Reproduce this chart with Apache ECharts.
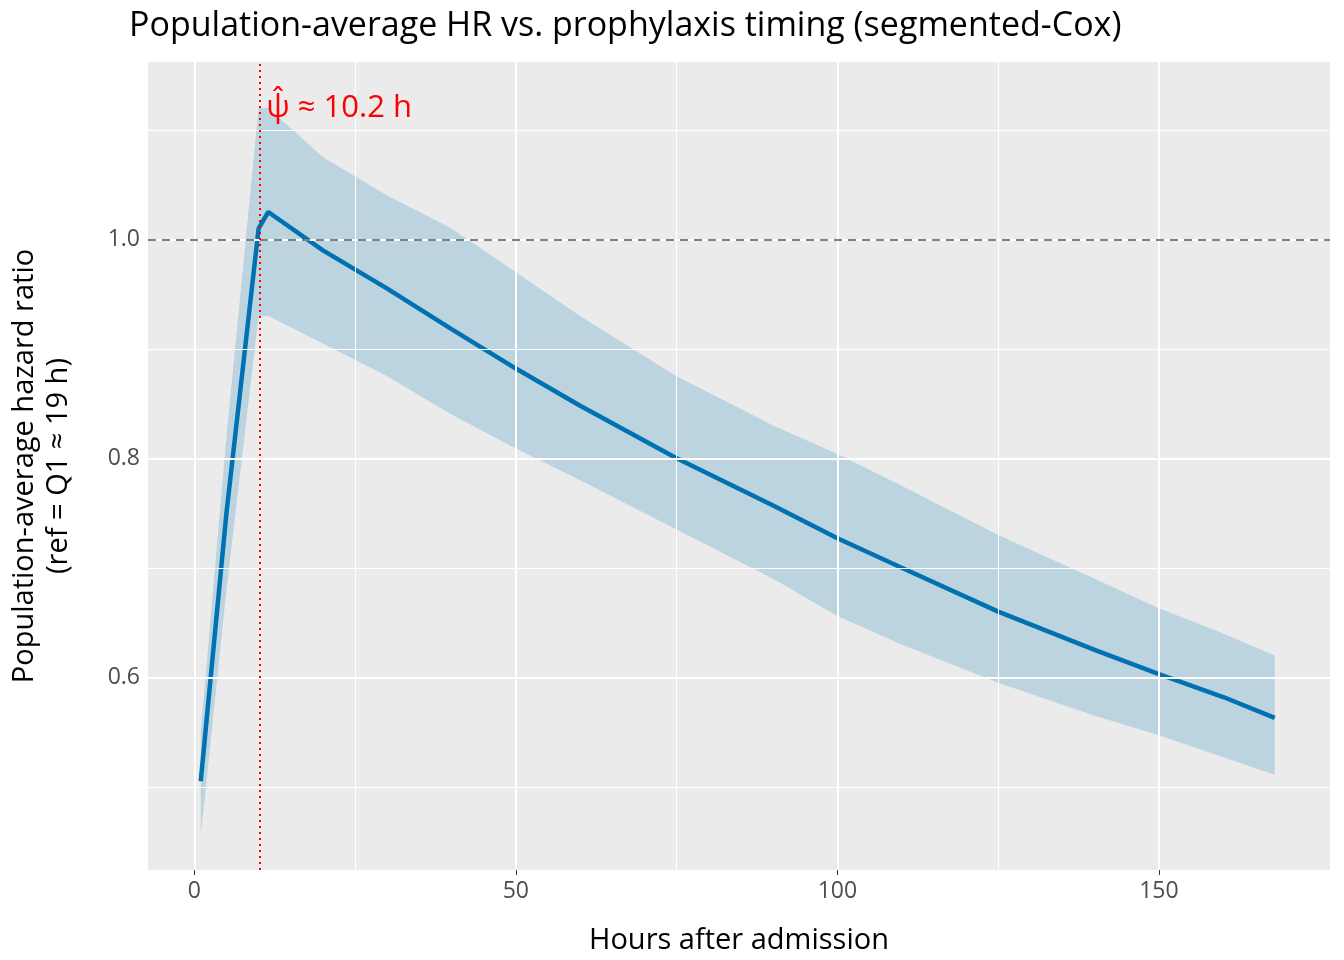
<!DOCTYPE html>
<html>
<head>
<meta charset="utf-8">
<script src="https://cdn.jsdelivr.net/npm/echarts@6/dist/echarts.min.js"></script>
<style>html,body{margin:0;background:#fff}#chart{width:1344px;height:960px}</style>
</head>
<body>
<div id="chart"></div>
<script>
// 数据
const hours = [1, 5, 10, 11.5, 20, 30, 40, 50, 60, 75, 90, 100, 110, 125, 140, 150, 160, 168];
const hrMid = [0.505, 0.75, 1.01, 1.025, 0.99, 0.955, 0.918, 0.882, 0.848, 0.800, 0.757, 0.727, 0.700, 0.660, 0.625, 0.603, 0.582, 0.563];
const hrUpper = [0.55, 0.82, 1.12, 1.12, 1.075, 1.04, 1.01, 0.97, 0.93, 0.875, 0.83, 0.804, 0.775, 0.73, 0.69, 0.663, 0.64, 0.62];
const hrLower = [0.455, 0.68, 0.93, 0.93, 0.905, 0.875, 0.84, 0.809, 0.78, 0.735, 0.69, 0.656, 0.63, 0.595, 0.565, 0.547, 0.527, 0.511];
const xTicks = [0, 50, 100, 150];
const xMinor = [25, 75, 125];
const yTicks = [0.6, 0.8, 1.0];
const yMinor = [0.5, 0.7, 0.9, 1.1];
const psiHat = 10.2;

const chart = echarts.init(document.getElementById('chart'));
const font = 'Open Sans';

const gridLines = [];
xTicks.forEach(v => gridLines.push({ xAxis: v, lineStyle: { width: 2 } }));
xMinor.forEach(v => gridLines.push({ xAxis: v, lineStyle: { width: 1 } }));
yTicks.forEach(v => gridLines.push({ yAxis: v, lineStyle: { width: 2 } }));
yMinor.forEach(v => gridLines.push({ yAxis: v, lineStyle: { width: 1 } }));

// 置信带多边形：上界正向 + 下界反向
const bandData = hours.map((h, i) => [h, hrLower[i], hrUpper[i]]);

const option = {
    animation: false,
    textStyle: { fontFamily: font },
    title: {
        text: 'Population-average HR vs. prophylaxis timing (segmented-Cox)',
        left: 124, top: 4,
        textStyle: { fontSize: 34, fontWeight: 'normal', color: '#000', fontFamily: font }
    },
    grid: { left: 128, right: 14, top: 62, bottom: 88, show: true, backgroundColor: '#EBEBEB', borderWidth: 0 },
    xAxis: {
        type: 'value', min: -7.2, max: 176.6,
        name: 'Hours after admission', nameLocation: 'middle', nameGap: 56,
        nameTextStyle: { fontSize: 29, color: '#000' },
        axisLine: { show: false },
        axisTick: { show: true, customValues: xTicks, length: 5, lineStyle: { color: '#333' } },
        axisLabel: { customValues: xTicks, fontSize: 23, color: '#4D4D4D', margin: 10 },
        splitLine: { show: false }
    },
    yAxis: {
        type: 'value', min: 0.424, max: 1.162,
        name: 'Population-average hazard ratio\n(ref = Q1 ≈ 19 h)', nameLocation: 'middle', nameGap: 72,
        nameTextStyle: { fontSize: 29, color: '#000', lineHeight: 34 },
        axisLine: { show: false },
        axisTick: { show: true, customValues: yTicks, length: 5, lineStyle: { color: '#333' } },
        axisLabel: { customValues: yTicks, fontSize: 23, color: '#4D4D4D', formatter: v => v.toFixed(1) },
        splitLine: { show: false }
    },
    series: [
        {
            type: 'line', data: [], silent: true, z: 1,
            markLine: { silent: true, symbol: 'none', label: { show: false }, lineStyle: { color: '#fff', type: 'solid' }, data: gridLines }
        },
        {
            type: 'custom', z: 2, silent: true,
            data: [0],
            renderItem: function (params, api) {
                const pts = [];
                bandData.forEach(d => pts.push(api.coord([d[0], d[2]])));
                for (let i = bandData.length - 1; i >= 0; i--) pts.push(api.coord([bandData[i][0], bandData[i][1]]));
                return { type: 'polygon', shape: { points: pts }, style: { fill: 'rgba(0,114,178,0.2)' } };
            }
        },
        {
            type: 'line', symbol: 'none', z: 4, smooth: false,
            data: hours.map((h, i) => [h, hrMid[i]]),
            lineStyle: { color: '#0072B2', width: 4.5 },
            markLine: {
                silent: true, symbol: 'none', label: { show: false },
                data: [
                    { yAxis: 1.0, lineStyle: { color: '#7F7F7F', type: [8, 6], width: 2 } },
                    { xAxis: psiHat, lineStyle: { color: '#FF0000', type: [2, 4], width: 2 } }
                ]
            },
            markPoint: {
                symbol: 'circle', symbolSize: 0,
                data: [{ coord: [11.2, 1.12], value: 'ψ̂ ≈ 10.2 h' }],
                label: { show: true, position: 'right', distance: 0, formatter: 'ψ̂ ≈ 10.2 h', color: '#FF0000', fontSize: 31 }
            }
        }
    ]
};

chart.setOption(option);
</script>
</body>
</html>
